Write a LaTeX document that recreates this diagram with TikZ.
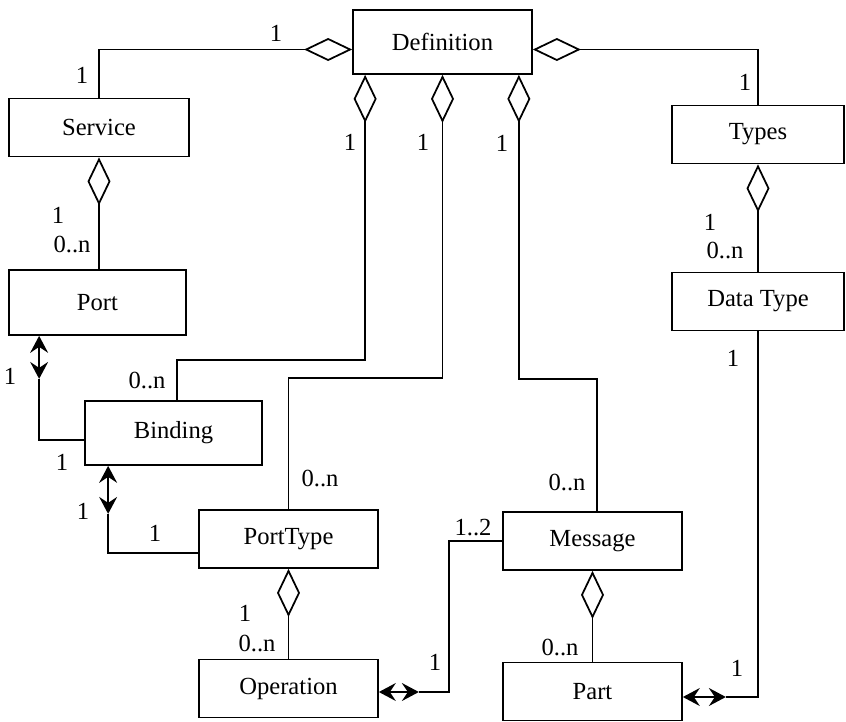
\documentclass[tikz,border=0pt]{standalone}
\usepackage{fontspec}
\setmainfont{Liberation Serif}
\usetikzlibrary{positioning,arrows.meta,calc}
\tikzset{
  cls/.style  = {draw, line width=1pt, minimum width=3.58cm, minimum height=1.16cm, inner sep=0pt},
  link/.style = {line width=1pt},
  agg/.style  = {link, {Diamond[open, length=0.96cm, width=0.46cm]}-},
  nav/.style  = {link, {Stealth[length=0.34cm, width=0.36cm, inset=0.12cm]}-{Stealth[length=0.34cm, width=0.36cm, inset=0.12cm]}},
  mult/.style = {inner sep=0pt},
}

\begin{document}
\begin{tikzpicture}[x=0.02cm, y=-0.02cm, font=\fontsize{14}{16}\selectfont]
  \useasboundingbox (0,0) rectangle (846,721);

  % classes
  \node[cls, minimum height=1.28cm] (def) at (442.5,42) {Definition};
  \node[cls, minimum width=3.6cm]   (svc) at (99,127.5) {Service};
  \node[cls, minimum width=3.44cm]  (types) at (758,134.5) {Types};
  \node[cls, minimum width=3.44cm]  (dtype) at (758,301.5) {Data Type};
  \node[cls, minimum width=3.54cm, minimum height=1.3cm] (port) at (97.5,302.5) {Port};
  \node[cls, minimum width=3.54cm, minimum height=1.28cm] (bind) at (173.5,433) {Binding};
  \node[cls] (pt)   at (288.5,539) {PortType};
  \node[cls] (op)   at (288.5,688.5) {Operation};
  \node[cls] (msg)  at (592.5,541) {Message};
  \node[cls] (part) at (592.5,691.5) {Part};

  % aggregations
  \draw[agg] ([yshift=-0.15cm]def.west) -| (svc.north);
  \draw[agg] ([yshift=-0.15cm]def.east) -| (types.north);
  \draw[agg] ([xshift=0.26cm]def.south west) -- ++(0,285) -| ([xshift=0.07cm]bind.north);
  \draw[agg] (def.south) -- ++(0,303) -| (pt.north);
  \draw[agg] ([xshift=-0.28cm]def.south east) -- ++(0,304) -| ([xshift=0.09cm]msg.north);
  \draw[agg] (svc.south) -- (svc.south |- port.north);
  \draw[agg] (types.south) -- (dtype.north);
  \draw[agg] (pt.south) -- (op.north);
  \draw[agg] (msg.south) -- (part.north);

  % navigable associations
  \draw[nav] ([xshift=0.62cm]port.south west) -- ++(0,43) coordinate (pb);
  \draw[link] (pb) |- ([yshift=-0.14cm]bind.west);
  \draw[nav] ([xshift=0.48cm]bind.south west) -- ++(0,48) coordinate (bp);
  \draw[link] (bp) |- ([yshift=-0.28cm]pt.west);
  \draw[nav] ([yshift=-0.07cm]op.east) -- ++(40,0) coordinate (om);
  \draw[link] (om) -- ++(30,0) |- (msg.west);
  \draw[nav] ([yshift=-0.11cm]part.east) -- ++(43,0) coordinate (pd);
  \draw[link] (pd) -| (dtype.south);

  % multiplicities
  \node[mult] (m1)  at (276,33)  {1};
  \node[mult] (m2)  at (82,75)   {1};
  \node[mult] (m3)  at (745,82)  {1};
  \node[mult] (m4)  at (350,142) {1};
  \node[mult] (m5)  at (423,142) {1};
  \node[mult] (m6)  at (502,143) {1};
  \node[mult] (m7)  at (58,215)  {1};
  \node[mult] (m8)  at (72,244)  {0..n};
  \node[mult] (m9)  at (710,222) {1};
  \node[mult] (m10) at (725,250) {0..n};
  \node[mult] (m11) at (733,358) {1};
  \node[mult] (m12) at (10,376)  {1};
  \node[mult] (m13) at (147,380) {0..n};
  \node[mult] (m14) at (62,462)  {1};
  \node[mult] (m15) at (320,478) {0..n};
  \node[mult] (m16) at (567,482) {0..n};
  \node[mult] (m17) at (83,511)  {1};
  \node[mult] (m18) at (155,533) {1};
  \node[mult] (m19) at (473,528) {1..2};
  \node[mult] (m20) at (245,613) {1};
  \node[mult] (m21) at (257,643) {0..n};
  \node[mult] (m22) at (560,647) {0..n};
  \node[mult] (m23) at (435,662) {1};
  \node[mult] (m24) at (737,668) {1};
\end{tikzpicture}
\end{document}
